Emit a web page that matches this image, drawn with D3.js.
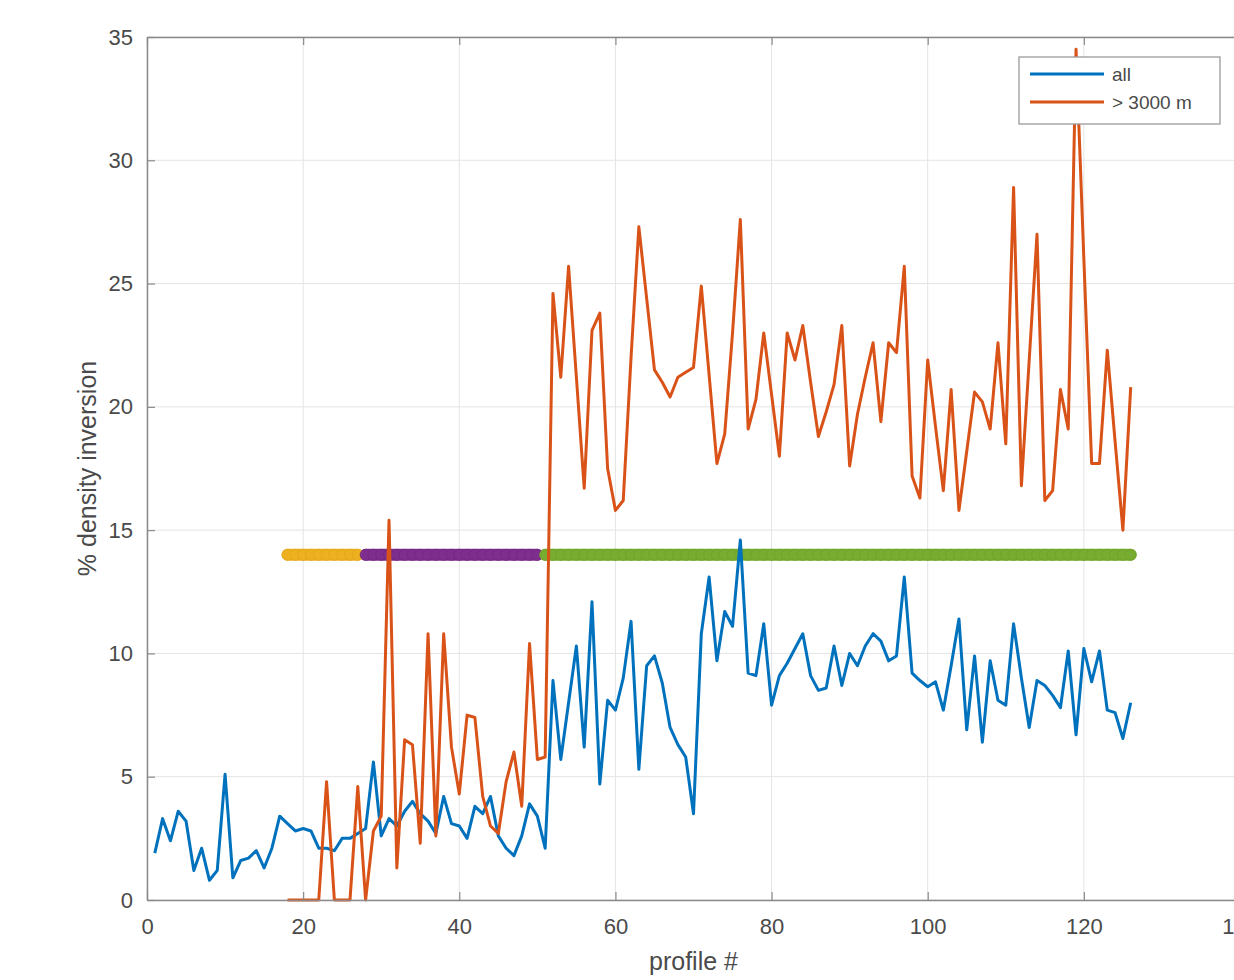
<!DOCTYPE html>
<html>
<head>
<meta charset="utf-8">
<script src="https://cdn.jsdelivr.net/npm/d3@7"></script>
<style>
  body { margin: 0; background: #fff; }
  text { font-family: "Liberation Sans", Arial, sans-serif; }
</style>
</head>
<body>
<svg id="chart" width="1234" height="980"></svg>
<script>
// % density inversion per profile
const allStart = 1;
const allPct = [
  1.9, 3.3, 2.4, 3.6, 3.2, 1.2, 2.1, 0.8, 1.2, 5.1,
  0.9, 1.6, 1.7, 2.0, 1.3, 2.1, 3.4, 3.1, 2.8, 2.9,
  2.8, 2.1, 2.1, 2.0, 2.5, 2.5, 2.7, 2.9, 5.6, 2.6,
  3.3, 3.0, 3.6, 4.0, 3.5, 3.2, 2.7, 4.2, 3.1, 3.0,
  2.5, 3.8, 3.5, 4.2, 2.6, 2.1, 1.8, 2.6, 3.9, 3.4,
  2.1, 8.9, 5.7, 8.0, 10.3, 6.2, 12.1, 4.7, 8.1, 7.7,
  9.0, 11.3, 5.3, 9.5, 9.9, 8.8, 7.0, 6.3, 5.8, 3.5,
  10.8, 13.1, 9.7, 11.7, 11.1, 14.6, 9.2, 9.1, 11.2, 7.9,
  9.1, 9.6, 10.2, 10.8, 9.1, 8.5, 8.6, 10.3, 8.7, 10.0,
  9.5, 10.3, 10.8, 10.5, 9.7, 9.9, 13.1, 9.2, 8.9, 8.65,
  8.85, 7.7, 9.5, 11.4, 6.9, 9.9, 6.4, 9.7, 8.1, 7.9,
  11.2, 9.0, 7.0, 8.9, 8.7, 8.3, 7.8, 10.1, 6.7, 10.2,
  8.85, 10.1, 7.7, 7.6, 6.55, 8.0
];

const deepStart = 18;
const deepPct = [
  0, 0, 0, 0, 0, 4.8, 0, 0, 0, 4.6,
  0, 2.8, 3.4, 15.4, 1.3, 6.5, 6.3, 2.3, 10.8, 2.6,
  10.8, 6.2, 4.3, 7.5, 7.4, 4.2, 3.0, 2.7, 4.8, 6.0,
  3.8, 10.4, 5.7, 5.8, 24.6, 21.2, 25.7, 21.2, 16.7, 23.1,
  23.8, 17.5, 15.8, 16.2, 22.0, 27.3, 24.4, 21.5, 21.0, 20.4,
  21.2, 21.4, 21.6, 24.9, 21.3, 17.7, 18.9, 23.0, 27.6, 19.1,
  20.3, 23.0, 20.5, 18.0, 23.0, 21.9, 23.3, 21.0, 18.8, 19.8,
  20.9, 23.3, 17.6, 19.7, 21.2, 22.6, 19.4, 22.6, 22.2, 25.7,
  17.2, 16.3, 21.9, 19.2, 16.6, 20.7, 15.8, 18.2, 20.6, 20.2,
  19.1, 22.6, 18.5, 28.9, 16.8, 21.9, 27.0, 16.2, 16.6, 20.7,
  19.1, 34.5, 26.0, 17.7, 17.7, 22.3, 18.6, 15.0, 20.8
];

// profile groups drawn as the dotted band
const bandLevel = 14;
const groupFrom = [18, 28, 51];
const groupTo = [27, 50, 126];

const seriesNames = ["all", "> 3000 m"];
const xTicks = [0, 20, 40, 60, 80, 100, 120, 140];
const yTicks = [0, 5, 10, 15, 20, 25, 30, 35];

// ---------- styles ----------
const lineColors = ["#0072BD", "#D95319"];
const groupColors = ["#EDB120", "#7E2F8E", "#77AC30"];
const groupEdges = ["#e0a61c", "#70287f", "#6da22b"];

const svg = d3.select("#chart");

const x = d3.scaleLinear().domain([0, 140]).range([147, 1240]);
const y = d3.scaleLinear().domain([0, 35]).range([900, 37]);

// ---------- GRID ----------
const grid = svg.append("g").attr("stroke", "#e4e4e4").attr("stroke-width", 1);
grid.selectAll(".gx").data(xTicks).join("line")
  .attr("x1", d => x(d)).attr("x2", d => x(d))
  .attr("y1", y(0)).attr("y2", y(35));
grid.selectAll(".gy").data(yTicks).join("line")
  .attr("x1", x(0)).attr("x2", x(140))
  .attr("y1", d => y(d)).attr("y2", d => y(d));

// ---------- BAND ----------
// solid underlay so the dots read as one continuous bar
svg.append("g").selectAll("line").data(groupFrom).join("line")
  .attr("x1", d => x(d)).attr("x2", (d, i) => x(groupTo[i]))
  .attr("y1", y(bandLevel)).attr("y2", y(bandLevel))
  .attr("stroke", (d, i) => groupColors[i])
  .attr("stroke-width", 12)
  .attr("stroke-linecap", "round");

const bandPts = [];
groupFrom.forEach((f, i) => {
  d3.range(f, groupTo[i] + 1).forEach(p => bandPts.push({ p, g: i }));
});
svg.append("g").selectAll("circle").data(bandPts).join("circle")
  .attr("cx", d => x(d.p))
  .attr("cy", y(bandLevel))
  .attr("r", 5.5)
  .attr("fill", d => groupColors[d.g])
  .attr("stroke", d => groupEdges[d.g])
  .attr("stroke-width", 0.8);

// ---------- LINES ----------
const allData = allPct.map((v, i) => [allStart + i, v]);
const deepData = deepPct.map((v, i) => [deepStart + i, v]);

const line = d3.line().x(d => x(d[0])).y(d => y(d[1]));

svg.append("path").datum(allData)
  .attr("d", line).attr("fill", "none")
  .attr("stroke", lineColors[0]).attr("stroke-width", 3)
  .attr("stroke-linejoin", "round");
svg.append("path").datum(deepData)
  .attr("d", line).attr("fill", "none")
  .attr("stroke", lineColors[1]).attr("stroke-width", 3)
  .attr("stroke-linejoin", "round");

// ---------- AXES ----------
const axisColor = "#8a8a8a";
const labelColor = "#4a4a4a";

const xAxis = svg.append("g")
  .attr("transform", `translate(0,${y(0)})`)
  .call(d3.axisBottom(x).tickValues(xTicks).tickSizeInner(-8).tickSizeOuter(0).tickPadding(18));
const xTop = svg.append("g")
  .attr("transform", `translate(0,${y(35)})`)
  .call(d3.axisTop(x).tickValues(xTicks).tickSizeInner(-8).tickSizeOuter(0).tickFormat(""));
const yAxis = svg.append("g")
  .attr("transform", `translate(${x(0)},0)`)
  .call(d3.axisLeft(y).tickValues(yTicks).tickSizeInner(-8).tickSizeOuter(0).tickPadding(14));

[xAxis, xTop, yAxis].forEach(a => {
  a.select(".domain").attr("stroke", axisColor).attr("stroke-width", 1.5);
  a.selectAll(".tick line").attr("stroke", axisColor).attr("stroke-width", 1.2);
  a.selectAll("text")
    .attr("fill", labelColor)
    .style("font-size", "22px")
    .style("font-family", "Liberation Sans, Arial, sans-serif");
});

svg.append("text")
  .attr("x", x(70)).attr("y", 970)
  .attr("text-anchor", "middle")
  .attr("fill", labelColor)
  .style("font-size", "25px")
  .text("profile #");

svg.append("text")
  .attr("transform", `translate(96,${y(17.5)}) rotate(-90)`)
  .attr("text-anchor", "middle")
  .attr("fill", labelColor)
  .style("font-size", "25px")
  .text("% density inversion");

// ---------- LEGEND ----------
const legend = svg.append("g").attr("transform", "translate(1019,57)");
legend.append("rect")
  .attr("width", 201).attr("height", 67)
  .attr("fill", "#fff").attr("stroke", "#9a9a9a").attr("stroke-width", 1.3);
seriesNames.forEach((name, i) => {
  const ly = 17 + i * 28;
  legend.append("line")
    .attr("x1", 11).attr("x2", 85).attr("y1", ly).attr("y2", ly)
    .attr("stroke", lineColors[i]).attr("stroke-width", 3);
  legend.append("text")
    .attr("x", 93).attr("y", ly + 7)
    .attr("fill", labelColor)
    .style("font-size", "19px")
    .text(name);
});
</script>
</body>
</html>
